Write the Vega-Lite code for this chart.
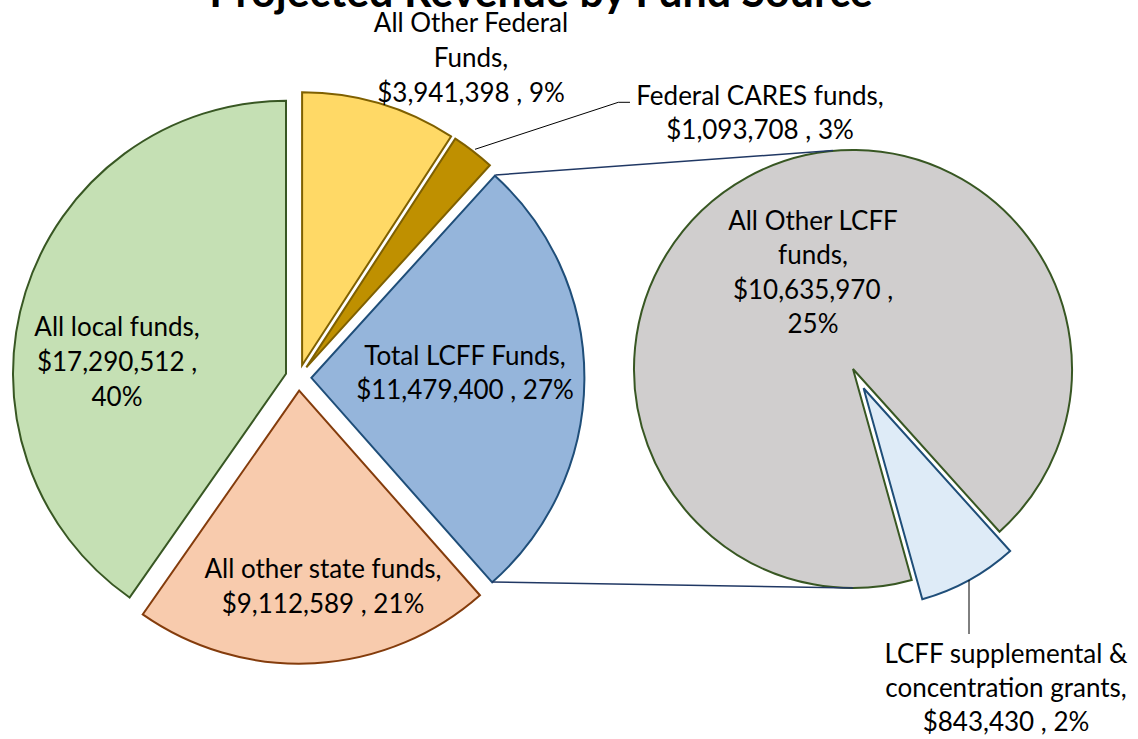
{
  "$schema": "https://vega.github.io/schema/vega-lite/v6.json",
  "width": 1138,
  "height": 739,
  "autosize": {"type": "none"},
  "padding": 0,
  "background": "white",
  "title": {"text": "Projected Revenue by Fund Source", "font": "Lato", "fontSize": 43, "fontWeight": "bold", "color": "#000000", "anchor": "middle", "frame": "group", "offset": -16, "dx": -28},
  "config": {"view": {"stroke": null}},
  "data": {"values": [
    {"pie": "main", "order": 1, "fund": "All Other Federal Funds", "amount": 3941398, "label": "All Other Federal\nFunds,\n$3,941,398 , 9%"},
    {"pie": "main", "order": 2, "fund": "Federal CARES funds", "amount": 1093708, "label": "Federal CARES funds,\n$1,093,708 , 3%"},
    {"pie": "main", "order": 3, "fund": "Total LCFF Funds", "amount": 11479400, "label": "Total LCFF Funds,\n$11,479,400 , 27%"},
    {"pie": "main", "order": 4, "fund": "All other state funds", "amount": 9112589, "label": "All other state funds,\n$9,112,589 , 21%"},
    {"pie": "main", "order": 5, "fund": "All local funds", "amount": 17290512, "label": "All local funds,\n$17,290,512 ,\n40%"},
    {"pie": "sub", "order": 1, "fund": "All Other LCFF funds", "amount": 10635970, "label": "All Other LCFF\nfunds,\n$10,635,970 ,\n25%"},
    {"pie": "sub", "order": 2, "fund": "LCFF supplemental & concentration grants", "amount": 843430, "label": "LCFF supplemental &\nconcentration grants,\n$843,430 , 2%"}
  ]},
  "encoding": {
    "x": {"field": "pie", "type": "nominal", "scale": {"type": "point", "domain": ["main", "sub"], "range": [298.4, 853], "padding": 0}, "axis": null},
    "y": {"field": "pie", "type": "nominal", "scale": {"type": "point", "domain": ["main", "sub"], "range": [377.7, 369], "padding": 0}, "axis": null}
  },
  "resolve": {"scale": {"theta": "independent"}},
  "layer": [
    {
      "transform": [
        {"filter": "datum.pie === 'main'"},
        {"stack": "amount", "groupby": ["pie"], "sort": [{"field": "order", "order": "ascending"}], "as": ["t0", "t1"], "offset": "normalize"},
        {"filter": "datum.fund === 'All Other Federal Funds'"}
      ],
      "mark": {"type": "arc", "outerRadius": 273, "xOffset": 3.7, "yOffset": -12.46, "strokeWidth": 2, "strokeJoin": "miter"},
      "encoding": {
        "theta": {"field": "t0", "type": "quantitative", "stack": null, "scale": {"domain": [0, 1], "range": [0, 6.2832]}},
        "theta2": {"field": "t1"},
        "fill": {"field": "fund", "type": "nominal", "legend": null, "scale": {"domain": ["All Other Federal Funds", "Federal CARES funds", "Total LCFF Funds", "All other state funds", "All local funds", "All Other LCFF funds", "LCFF supplemental & concentration grants"], "range": ["#FFD966", "#BF9000", "#95B5DB", "#F8CBAD", "#C5E0B4", "#D0CECE", "#DEEBF7"]}},
        "stroke": {"field": "fund", "type": "nominal", "legend": null, "scale": {"domain": ["All Other Federal Funds", "Federal CARES funds", "Total LCFF Funds", "All other state funds", "All local funds", "All Other LCFF funds", "LCFF supplemental & concentration grants"], "range": ["#7F6000", "#7F6000", "#1F4E79", "#843C0C", "#385723", "#385723", "#1F4E79"]}}
      }
    },
    {
      "transform": [
        {"filter": "datum.pie === 'main'"},
        {"stack": "amount", "groupby": ["pie"], "sort": [{"field": "order", "order": "ascending"}], "as": ["t0", "t1"], "offset": "normalize"},
        {"filter": "datum.fund === 'Federal CARES funds'"}
      ],
      "mark": {"type": "arc", "outerRadius": 273, "xOffset": 7.94, "yOffset": -10.29, "strokeWidth": 2, "strokeJoin": "miter"},
      "encoding": {
        "theta": {"field": "t0", "type": "quantitative", "stack": null, "scale": {"domain": [0, 1], "range": [0, 6.2832]}},
        "theta2": {"field": "t1"},
        "fill": {"field": "fund", "type": "nominal", "legend": null},
        "stroke": {"field": "fund", "type": "nominal", "legend": null}
      }
    },
    {
      "transform": [
        {"filter": "datum.pie === 'main'"},
        {"stack": "amount", "groupby": ["pie"], "sort": [{"field": "order", "order": "ascending"}], "as": ["t0", "t1"], "offset": "normalize"},
        {"filter": "datum.fund === 'Total LCFF Funds'"}
      ],
      "mark": {"type": "arc", "outerRadius": 273, "xOffset": 13, "yOffset": 0.09, "strokeWidth": 2, "strokeJoin": "miter"},
      "encoding": {
        "theta": {"field": "t0", "type": "quantitative", "stack": null, "scale": {"domain": [0, 1], "range": [0, 6.2832]}},
        "theta2": {"field": "t1"},
        "fill": {"field": "fund", "type": "nominal", "legend": null},
        "stroke": {"field": "fund", "type": "nominal", "legend": null}
      }
    },
    {
      "transform": [
        {"filter": "datum.pie === 'main'"},
        {"stack": "amount", "groupby": ["pie"], "sort": [{"field": "order", "order": "ascending"}], "as": ["t0", "t1"], "offset": "normalize"},
        {"filter": "datum.fund === 'All other state funds'"}
      ],
      "mark": {"type": "arc", "outerRadius": 273, "xOffset": 0.74, "yOffset": 12.98, "strokeWidth": 2, "strokeJoin": "miter"},
      "encoding": {
        "theta": {"field": "t0", "type": "quantitative", "stack": null, "scale": {"domain": [0, 1], "range": [0, 6.2832]}},
        "theta2": {"field": "t1"},
        "fill": {"field": "fund", "type": "nominal", "legend": null},
        "stroke": {"field": "fund", "type": "nominal", "legend": null}
      }
    },
    {
      "transform": [
        {"filter": "datum.pie === 'main'"},
        {"stack": "amount", "groupby": ["pie"], "sort": [{"field": "order", "order": "ascending"}], "as": ["t0", "t1"], "offset": "normalize"},
        {"filter": "datum.fund === 'All local funds'"}
      ],
      "mark": {"type": "arc", "outerRadius": 273, "xOffset": -12.4, "yOffset": -3.9, "strokeWidth": 2, "strokeJoin": "miter"},
      "encoding": {
        "theta": {"field": "t0", "type": "quantitative", "stack": null, "scale": {"domain": [0, 1], "range": [0, 6.2832]}},
        "theta2": {"field": "t1"},
        "fill": {"field": "fund", "type": "nominal", "legend": null},
        "stroke": {"field": "fund", "type": "nominal", "legend": null}
      }
    },
    {
      "transform": [
        {"filter": "datum.pie === 'sub'"},
        {"stack": "amount", "groupby": ["pie"], "sort": [{"field": "order", "order": "ascending"}], "as": ["t0", "t1"], "offset": "normalize"},
        {"filter": "datum.fund === 'All Other LCFF funds'"}
      ],
      "mark": {"type": "arc", "outerRadius": 219, "strokeWidth": 2, "strokeJoin": "miter"},
      "encoding": {
        "theta": {"field": "t0", "type": "quantitative", "stack": null, "scale": {"domain": [0, 1], "range": [2.8702, 9.1534]}},
        "theta2": {"field": "t1"},
        "fill": {"field": "fund", "type": "nominal", "legend": null},
        "stroke": {"field": "fund", "type": "nominal", "legend": null}
      }
    },
    {
      "transform": [
        {"filter": "datum.pie === 'sub'"},
        {"stack": "amount", "groupby": ["pie"], "sort": [{"field": "order", "order": "ascending"}], "as": ["t0", "t1"], "offset": "normalize"},
        {"filter": "datum.fund === 'LCFF supplemental & concentration grants'"}
      ],
      "mark": {"type": "arc", "outerRadius": 219, "xOffset": 10.6, "yOffset": 19.28, "strokeWidth": 2, "strokeJoin": "miter"},
      "encoding": {
        "theta": {"field": "t0", "type": "quantitative", "stack": null, "scale": {"domain": [0, 1], "range": [2.8702, 9.1534]}},
        "theta2": {"field": "t1"},
        "fill": {"field": "fund", "type": "nominal", "legend": null},
        "stroke": {"field": "fund", "type": "nominal", "legend": null}
      }
    },
    {
      "data": {"values": [{"from": "main", "to": "sub"}]},
      "mark": {"type": "rule", "xOffset": 197, "yOffset": -202.7, "x2Offset": -20, "y2Offset": -218.5, "stroke": "#203864", "strokeWidth": 1.5},
      "encoding": {
        "x": {"field": "from", "type": "nominal"},
        "y": {"field": "from", "type": "nominal"},
        "x2": {"field": "to"},
        "y2": {"field": "to"}
      }
    },
    {
      "data": {"values": [{"from": "main", "to": "sub"}]},
      "mark": {"type": "rule", "xOffset": 193.6, "yOffset": 204.3, "x2Offset": 0, "y2Offset": 219, "stroke": "#203864", "strokeWidth": 1.5},
      "encoding": {
        "x": {"field": "from", "type": "nominal"},
        "y": {"field": "from", "type": "nominal"},
        "x2": {"field": "to"},
        "y2": {"field": "to"}
      }
    },
    {
      "data": {"values": [{"from": "main", "to": "main"}]},
      "mark": {"type": "rule", "xOffset": 176.6, "yOffset": -228.4, "x2Offset": 319.9, "y2Offset": -275.4, "stroke": "#000000", "strokeWidth": 1},
      "encoding": {
        "x": {"field": "from", "type": "nominal"},
        "y": {"field": "from", "type": "nominal"},
        "x2": {"field": "to"},
        "y2": {"field": "to"}
      }
    },
    {
      "data": {"values": [{"from": "main", "to": "main"}]},
      "mark": {"type": "rule", "xOffset": 319.9, "yOffset": -275.4, "x2Offset": 331.6, "y2Offset": -275.4, "stroke": "#000000", "strokeWidth": 1},
      "encoding": {
        "x": {"field": "from", "type": "nominal"},
        "y": {"field": "from", "type": "nominal"},
        "x2": {"field": "to"},
        "y2": {"field": "to"}
      }
    },
    {
      "data": {"values": [{"from": "sub", "to": "sub"}]},
      "mark": {"type": "rule", "xOffset": 116, "yOffset": 211, "x2Offset": 116, "y2Offset": 265, "stroke": "#000000", "strokeWidth": 1},
      "encoding": {
        "x": {"field": "from", "type": "nominal"},
        "y": {"field": "from", "type": "nominal"},
        "x2": {"field": "to"},
        "y2": {"field": "to"}
      }
    },
    {
      "transform": [{"filter": "datum.fund === 'All Other Federal Funds'"}],
      "mark": {"type": "text", "dx": 172.6, "dy": -354.2, "font": "Lato", "fontSize": 26, "lineHeight": 35, "lineBreak": "\n", "align": "center", "baseline": "middle", "color": "#000000"},
      "encoding": {"text": {"field": "label"}}
    },
    {
      "transform": [{"filter": "datum.fund === 'Federal CARES funds'"}],
      "mark": {"type": "text", "dx": 461.6, "dy": -280.7, "font": "Lato", "fontSize": 26, "lineHeight": 34, "lineBreak": "\n", "align": "center", "baseline": "middle", "color": "#000000"},
      "encoding": {"text": {"field": "label"}}
    },
    {
      "transform": [{"filter": "datum.fund === 'Total LCFF Funds'"}],
      "mark": {"type": "text", "dx": 166.6, "dy": -20.7, "font": "Lato", "fontSize": 26, "lineHeight": 34, "lineBreak": "\n", "align": "center", "baseline": "middle", "color": "#000000"},
      "encoding": {"text": {"field": "label"}}
    },
    {
      "transform": [{"filter": "datum.fund === 'All other state funds'"}],
      "mark": {"type": "text", "dx": 24.6, "dy": 191.8, "font": "Lato", "fontSize": 26, "lineHeight": 35, "lineBreak": "\n", "align": "center", "baseline": "middle", "color": "#000000"},
      "encoding": {"text": {"field": "label"}}
    },
    {
      "transform": [{"filter": "datum.fund === 'All local funds'"}],
      "mark": {"type": "text", "dx": -181.4, "dy": -49.7, "font": "Lato", "fontSize": 26, "lineHeight": 35, "lineBreak": "\n", "align": "center", "baseline": "middle", "color": "#000000"},
      "encoding": {"text": {"field": "label"}}
    },
    {
      "transform": [{"filter": "datum.fund === 'All Other LCFF funds'"}],
      "mark": {"type": "text", "dx": -40, "dy": -147.25, "font": "Lato", "fontSize": 26, "lineHeight": 34.5, "lineBreak": "\n", "align": "center", "baseline": "middle", "color": "#000000"},
      "encoding": {"text": {"field": "label"}}
    },
    {
      "transform": [{"filter": "datum.fund === 'LCFF supplemental & concentration grants'"}],
      "mark": {"type": "text", "dx": 153, "dy": 286, "font": "Lato", "fontSize": 26, "lineHeight": 34, "lineBreak": "\n", "align": "center", "baseline": "middle", "color": "#000000"},
      "encoding": {"text": {"field": "label"}}
    }
  ]
}
